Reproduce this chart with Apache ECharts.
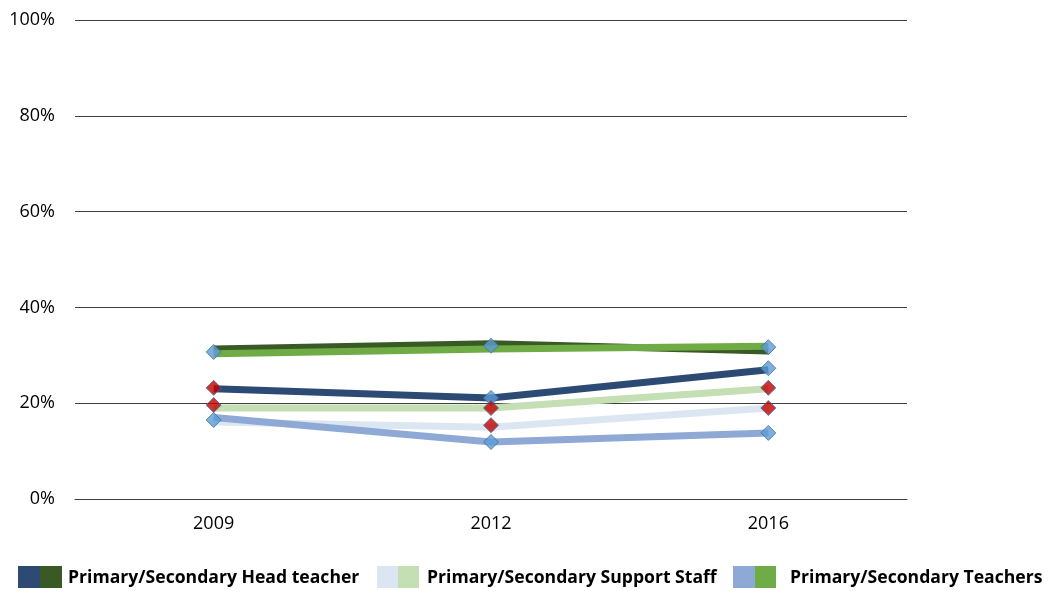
<!DOCTYPE html>
<html>
<head>
<meta charset="utf-8">
<script src="https://cdn.jsdelivr.net/npm/echarts@6/dist/echarts.min.js"></script>
<style>
  html, body { margin: 0; padding: 0; background: #fff; }
  #cht { width: 1048px; height: 591px; }
</style>
</head>
<body>
<div id="cht"></div>
<script>
var years = ['2009', '2012', '2016'];

var headPrimary = [23.0, 21.1, 27.0];
var headSecondary = [31.3, 32.4, 30.9];
var supportPrimary = [16.1, 15.0, 19.0];
var supportSecondary = [19.0, 19.0, 23.0];
var teachersPrimary = [17.0, 11.9, 13.8];
var teachersSecondary = [30.3, 31.3, 31.9];

// marker points [year index, value]
var blueMarks = [[0, 30.7], [0, 16.5], [1, 32.0], [1, 21.1], [1, 11.9], [2, 31.7], [2, 27.3], [2, 13.8]];
var redMarks = [[0, 23.2], [0, 19.6], [1, 19.0], [1, 15.4], [2, 23.2], [2, 19.0]];

var legendItems = ['Primary/Secondary Head teacher', 'Primary/Secondary Support Staff', 'Primary/Secondary Teachers'];

var font = 'Open Sans, Noto Sans, sans-serif';
var legendFont = 'bold 17.6px ' + font;

function lineSeries(name, data, color) {
    return {
        name: name,
        type: 'line',
        data: data,
        symbol: 'none',
        lineStyle: { width: 7, color: color },
        z: 2
    };
}

var config = {
    animation: false,
    grid: { left: 75, right: 141, top: 20, bottom: 92 },
    xAxis: {
        type: 'category',
        data: years,
        boundaryGap: true,
        axisLine: { show: true, lineStyle: { color: '#404040', width: 1 } },
        axisTick: { show: false },
        axisLabel: { color: '#000', fontSize: 18, fontFamily: font, margin: 16 }
    },
    yAxis: {
        type: 'value',
        min: 0,
        max: 100,
        interval: 20,
        axisLine: { show: false },
        axisTick: { show: false },
        splitLine: { lineStyle: { color: '#404040', width: 1 } },
        axisLabel: { color: '#000', fontSize: 18, fontFamily: font, margin: 20, formatter: '{value}%' }
    },
    series: [
        lineSeries('Primary Support Staff', supportPrimary, '#DCE6F2'),
        lineSeries('Secondary Support Staff', supportSecondary, '#C4DFB3'),
        lineSeries('Primary Teachers', teachersPrimary, '#8EA9D6'),
        lineSeries('Primary Head teacher', headPrimary, '#2C4A74'),
        lineSeries('Secondary Head teacher', headSecondary, '#3A5A25'),
        lineSeries('Secondary Teachers', teachersSecondary, '#6FAC45'),
        {
            type: 'scatter',
            data: blueMarks,
            symbol: 'diamond',
            symbolSize: 15,
            itemStyle: { color: '#5B9BD5', borderColor: '#41719C', borderWidth: 1 },
            z: 5
        },
        {
            type: 'scatter',
            data: redMarks,
            symbol: 'diamond',
            symbolSize: 15,
            itemStyle: { color: '#C00000', borderColor: '#41719C', borderWidth: 1 },
            z: 5
        }
    ],
    graphic: [
        { type: 'rect', left: 18, top: 566, shape: { width: 22, height: 22 }, style: { fill: '#2C4A74' } },
        { type: 'rect', left: 40, top: 566, shape: { width: 22, height: 22 }, style: { fill: '#3A5A25' } },
        { type: 'text', x: 68, y: 578, style: { text: legendItems[0], fill: '#000', font: legendFont, verticalAlign: 'middle' } },
        { type: 'rect', left: 377, top: 566, shape: { width: 21, height: 22 }, style: { fill: '#DCE6F2' } },
        { type: 'rect', left: 398, top: 566, shape: { width: 21, height: 22 }, style: { fill: '#C4DFB3' } },
        { type: 'text', x: 427, y: 578, style: { text: legendItems[1], fill: '#000', font: legendFont, verticalAlign: 'middle' } },
        { type: 'rect', left: 733, top: 566, shape: { width: 22, height: 22 }, style: { fill: '#8EA9D6' } },
        { type: 'rect', left: 755, top: 566, shape: { width: 21, height: 22 }, style: { fill: '#6FAC45' } },
        { type: 'text', x: 790, y: 578, style: { text: legendItems[2], fill: '#000', font: legendFont, verticalAlign: 'middle' } }
    ]
};

window.onload = function() {
    var myChart = echarts.init(document.getElementById('cht'));
    myChart.setOption(config);
};
</script>
</body>
</html>
